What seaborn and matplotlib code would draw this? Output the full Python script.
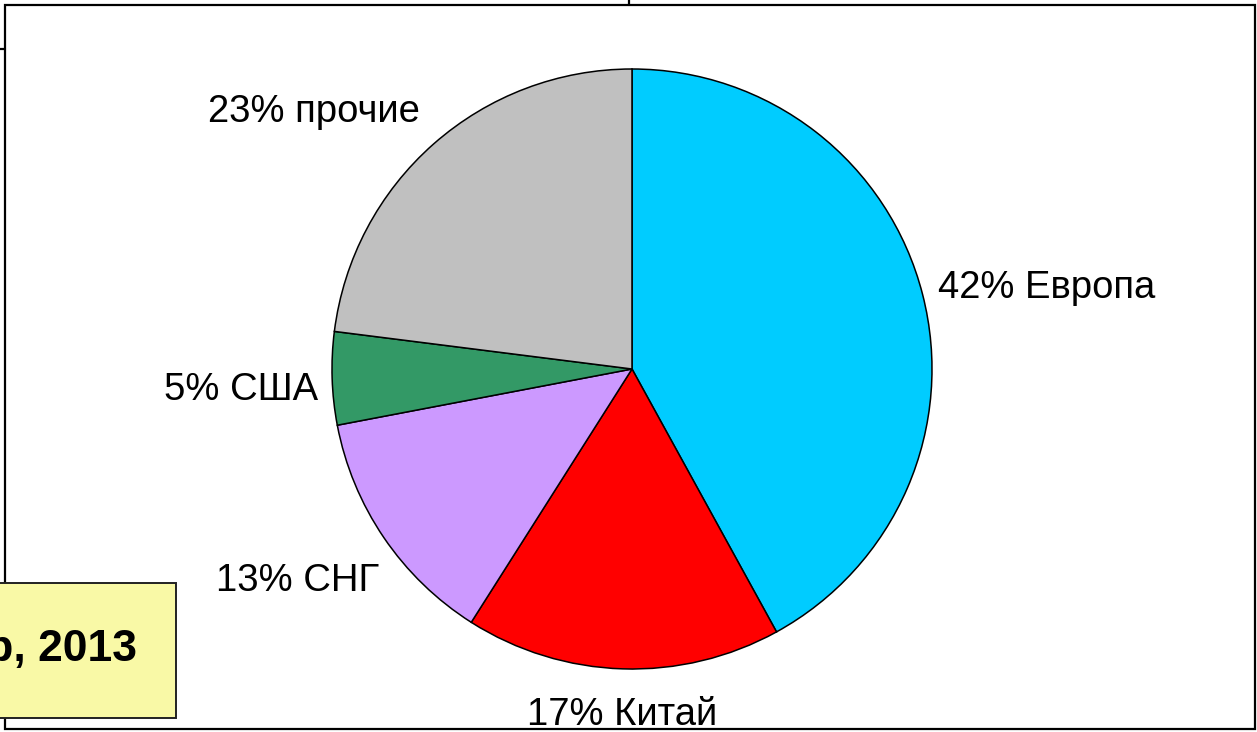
import numpy as np
import seaborn as sns
import matplotlib.pyplot as plt
from matplotlib.patches import Rectangle

# данные
regions = ['Европа', 'Китай', 'СНГ', 'США', 'прочие']
shares = [42, 17, 13, 5, 23]
colors = ['#00CCFF', '#FF0000', '#CC99FF', '#339966', '#C0C0C0']
box_text = 'Экспорт: мир, 2013'

sns.set_theme(style='white')
plt.rcParams['font.family'] = ['Liberation Sans', 'DejaVu Sans']

W, H = 1257, 732
fig = plt.figure(figsize=(W / 100, H / 100), dpi=100)
ax = fig.add_axes([0, 0, 1, 1])

# центр и радиус круга (в пикселях, y снизу вверх)
cx, cy, r = 632, H - 369, 300

wedges, _ = ax.pie(
    shares,
    colors=sns.color_palette(colors),
    startangle=90,
    counterclock=False,
    center=(cx, cy),
    radius=r,
    wedgeprops=dict(edgecolor='black', linewidth=1.1),
)

ax.set_xlim(0, W)
ax.set_ylim(0, H)
ax.set_aspect('equal')
ax.axis('off')

# подписи снаружи, как в Excel (небольшие сдвиги в пикселях)
nudge = [(-2, 2), (0, -10), (10, -15), (4, -11), (-2, 0)]
for w, name, val, (dx, dy) in zip(wedges, regions, shares, nudge):
    ang = np.deg2rad((w.theta1 + w.theta2) / 2)
    c, s = np.cos(ang), np.sin(ang)
    x = cx + 1.06 * r * c + dx
    y = cy + 1.06 * r * s + dy
    ha = 'left' if c > 0.3 else ('right' if c < -0.3 else 'center')
    va = 'bottom' if s > 0.3 else ('top' if s < -0.3 else 'center')
    ax.text(x, y, f'{val}% {name}', ha=ha, va=va, fontsize=27.5, color='black')

# рамка области диаграммы
ax.add_patch(Rectangle((5, H - 729), 1250, 724, fill=False,
                       edgecolor='black', linewidth=1.6, zorder=5))
ax.plot([629, 629], [H - 5, H], color='black', lw=1.6)
ax.plot([0, 5], [H - 49, H - 49], color='black', lw=1.6)

# жёлтая плашка (текст уходит за левый край, как на исходнике)
ax.add_patch(Rectangle((-20, H - 718), 196, 135, facecolor='#F9F9A6',
                       edgecolor='#222222', linewidth=1.4, zorder=6))
ax.text(137, H - 650, box_text, ha='right', va='center', fontsize=32,
        fontweight='bold', color='black', zorder=7)

fig.savefig('out.png', dpi=100)
